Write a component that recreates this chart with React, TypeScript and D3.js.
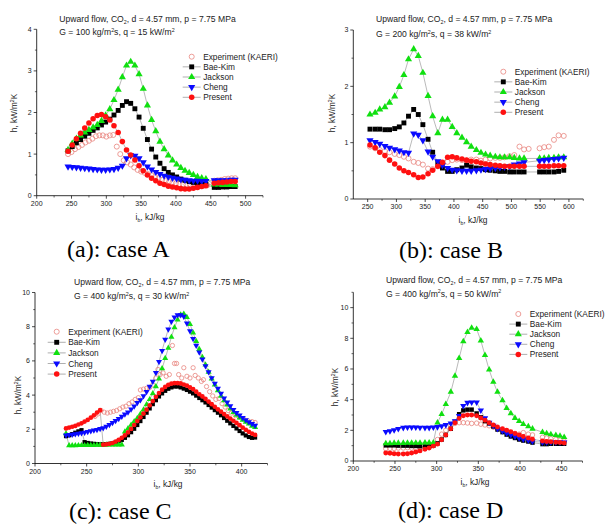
import React from 'react'
import * as d3 from 'd3'

const SERIES = ['Experiment (KAERI)', 'Bae-Kim', 'Jackson', 'Cheng', 'Present']

// case A : G = 100, q = 15
const aExpX = [245, 250, 255, 260, 265, 270, 275, 280, 285, 290, 295, 300, 305, 310, 315, 320, 325, 330, 335, 340, 345, 350, 355, 360, 365, 370, 375, 380, 385, 390, 395, 400, 405, 410, 415, 420, 425, 430, 435, 440, 445, 455, 460, 465, 470, 475, 480, 485]
const aExpY = [1.0, 1.05, 1.12, 1.17, 1.22, 1.28, 1.32, 1.37, 1.43, 1.45, 1.45, 1.42, 1.45, 1.46, 1.18, 1.0, 0.85, 0.8, 0.75, 0.68, 0.62, 0.58, 0.55, 0.52, 0.49, 0.45, 0.42, 0.38, 0.35, 0.33, 0.31, 0.3, 0.28, 0.27, 0.27, 0.26, 0.26, 0.25, 0.24, 0.24, 0.25, 0.36, 0.37, 0.38, 0.4, 0.41, 0.42, 0.42]
const aX = [245, 251, 257, 263, 269, 275, 281, 287, 293, 299, 305, 311, 317, 323, 329, 335, 341, 347, 353, 359, 365, 371, 377, 383, 389, 395, 401, 407, 413, 419, 425, 431, 437, 443, 455, 461, 467, 473, 479, 485]
const aBaeKim = [1.08, 1.18, 1.27, 1.35, 1.43, 1.5, 1.57, 1.63, 1.7, 1.77, 1.84, 1.94, 2.05, 2.17, 2.26, 2.22, 2.09, 1.89, 1.62, 1.35, 1.12, 0.93, 0.78, 0.65, 0.56, 0.5, 0.45, 0.4, 0.37, 0.34, 0.32, 0.3, 0.28, 0.27, 0.2, 0.2, 0.21, 0.21, 0.22, 0.22]
const aJackson = [1.1, 1.25, 1.37, 1.45, 1.52, 1.58, 1.64, 1.7, 1.8, 1.93, 2.08, 2.3, 2.55, 2.85, 3.13, 3.22, 3.13, 2.92, 2.57, 2.17, 1.82, 1.55, 1.3, 1.12, 0.97, 0.85, 0.75, 0.67, 0.6, 0.55, 0.5, 0.45, 0.42, 0.4, 0.27, 0.27, 0.26, 0.26, 0.26, 0.25]
const aCheng = [0.7, 0.69, 0.68, 0.67, 0.66, 0.65, 0.64, 0.63, 0.62, 0.62, 0.63, 0.64, 0.67, 0.72, 0.9, 0.97, 0.96, 0.9, 0.8, 0.7, 0.63, 0.57, 0.52, 0.48, 0.45, 0.43, 0.41, 0.39, 0.38, 0.37, 0.36, 0.36, 0.35, 0.35, 0.37, 0.37, 0.37, 0.37, 0.38, 0.38]
const aPresent = [1.07, 1.22, 1.37, 1.5, 1.63, 1.75, 1.85, 1.93, 1.95, 1.9, 1.82, 1.68, 1.52, 1.3, 1.1, 0.98, 0.86, 0.72, 0.6, 0.5, 0.42, 0.36, 0.3, 0.27, 0.23, 0.21, 0.19, 0.17, 0.16, 0.16, 0.18, 0.2, 0.22, 0.24, 0.3, 0.31, 0.32, 0.33, 0.34, 0.34]

// case B : G = 200, q = 38
const bExpX = [254, 263, 271, 280, 288, 297, 305, 313, 321, 330, 338, 346, 355, 363, 372, 380, 389, 397, 405, 414, 422, 430, 439, 447, 455, 463, 472, 480, 488, 497, 505, 514, 522, 530, 549, 557, 565, 574, 582, 591]
const bExpY = [0.93, 0.9, 0.87, 0.85, 0.83, 0.8, 0.78, 0.75, 0.72, 0.66, 0.64, 0.61, 0.54, 0.53, 0.58, 0.62, 0.66, 0.69, 0.7, 0.69, 0.68, 0.7, 0.7, 0.68, 0.7, 0.72, 0.73, 0.73, 0.74, 0.76, 0.78, 0.93, 0.88, 0.89, 0.9, 0.92, 0.93, 1.05, 1.13, 1.12]
const bX = [254, 263, 271, 280, 288, 297, 305, 313, 321, 330, 338, 346, 355, 363, 372, 380, 389, 397, 405, 414, 422, 430, 439, 447, 455, 463, 472, 480, 488, 497, 505, 514, 522, 549, 557, 565, 574, 582, 591]
const bBaeKim = [1.24, 1.24, 1.24, 1.23, 1.23, 1.25, 1.28, 1.35, 1.47, 1.59, 1.5, 1.32, 1.06, 0.83, 0.65, 0.55, 0.49, 0.49, 0.52, 0.55, 0.6, 0.57, 0.55, 0.54, 0.52, 0.51, 0.5, 0.49, 0.49, 0.48, 0.48, 0.48, 0.48, 0.48, 0.48, 0.48, 0.48, 0.49, 0.51]
const bJackson = [1.5, 1.53, 1.59, 1.63, 1.71, 1.82, 1.99, 2.2, 2.48, 2.66, 2.54, 2.24, 1.83, 1.47, 1.17, 1.41, 1.41, 1.28, 1.17, 1.09, 1.01, 0.93, 0.87, 0.82, 0.79, 0.77, 0.75, 0.74, 0.74, 0.74, 0.73, 0.72, 0.72, 0.72, 0.72, 0.73, 0.73, 0.74, 0.74]
const bCheng = [1.04, 1.01, 0.98, 0.94, 0.91, 0.88, 0.86, 0.83, 0.82, 1.16, 1.14, 1.04, 0.84, 0.75, 0.67, 0.6, 0.55, 0.52, 0.51, 0.5, 0.5, 0.5, 0.51, 0.52, 0.53, 0.54, 0.55, 0.56, 0.57, 0.58, 0.61, 0.63, 0.65, 0.68, 0.69, 0.7, 0.71, 0.72, 0.73]
const bPresent = [0.96, 0.91, 0.83, 0.77, 0.69, 0.62, 0.55, 0.5, 0.47, 0.43, 0.38, 0.39, 0.45, 0.51, 0.58, 0.65, 0.74, 0.75, 0.73, 0.71, 0.69, 0.67, 0.66, 0.64, 0.62, 0.61, 0.6, 0.59, 0.58, 0.58, 0.58, 0.58, 0.58, 0.58, 0.58, 0.58, 0.59, 0.59, 0.59]

// case C : G = 400, q = 30
const cExpX = [258, 261, 264, 267, 270, 273, 276, 279, 282, 285, 288, 291, 294, 297, 300, 302, 305, 308, 311, 314, 317, 319, 321, 324, 327, 330, 333, 335, 337, 339, 342, 344, 347, 350, 353, 355, 358, 361, 363, 366, 369, 372, 375, 378, 381, 384, 387, 390, 394, 398, 402, 406, 410, 413]
const cExpY = [2.75, 2.9, 3.1, 3.0, 2.95, 3.0, 3.05, 3.1, 3.2, 3.3, 3.35, 3.5, 3.6, 3.75, 3.85, 4.3, 4.35, 4.4, 4.45, 4.6, 5.0, 5.5, 5.2, 5.3, 5.1, 5.2, 6.9, 5.85, 5.85, 5.2, 5.0, 5.6, 5.1, 5.0, 5.6, 5.15, 5.0, 4.8, 4.9, 4.5, 4.2, 3.95, 3.75, 3.8, 3.5, 3.3, 3.1, 2.95, 2.8, 2.7, 2.6, 2.5, 2.45, 2.4]
const cX = [230, 233, 236, 239, 242, 245, 248, 251, 254, 257, 260, 263, 266, 269, 272, 275, 278, 281, 284, 287, 290, 293, 296, 299, 302, 305, 308, 311, 314, 317, 320, 323, 326, 329, 332, 335, 338, 341, 344, 347, 350, 353, 356, 359, 362, 365, 368, 371, 374, 377, 380, 383, 386, 389, 392, 395, 398, 401, 404, 407, 410, 413]
const cBaeKim = [1.6, 1.65, 1.72, 1.8, 1.88, 1.95, 1.25, 1.2, 1.17, 1.15, 1.13, 1.12, 1.12, 1.13, 1.15, 1.18, 1.23, 1.3, 1.38, 1.5, 1.65, 1.83, 2.03, 2.25, 2.48, 2.72, 2.97, 3.22, 3.47, 3.7, 3.92, 4.1, 4.25, 4.37, 4.45, 4.5, 4.5, 4.45, 4.38, 4.3, 4.2, 4.1, 3.97, 3.83, 3.7, 3.57, 3.42, 3.27, 3.12, 2.97, 2.82, 2.66, 2.5, 2.35, 2.2, 2.05, 1.9, 1.76, 1.64, 1.55, 1.5, 1.52]
const cJackson = [1.75, 1.05, 1.05, 1.05, 1.06, 1.06, 1.06, 1.07, 1.07, 1.07, 1.08, 1.08, 1.08, 1.09, 1.09, 1.1, 1.1, 1.1, 1.1, 1.85, 2.05, 2.25, 2.45, 2.65, 2.9, 3.15, 3.45, 3.75, 4.1, 4.5, 4.95, 5.55, 6.15, 6.75, 7.4, 7.95, 8.4, 8.7, 8.75, 8.55, 8.15, 7.65, 7.15, 6.68, 6.22, 5.78, 5.35, 4.95, 4.6, 4.27, 3.95, 3.68, 3.43, 3.2, 3.0, 2.83, 2.68, 2.55, 2.43, 2.32, 2.2, 2.12]
const cCheng = [1.65, 1.68, 1.7, 1.73, 1.76, 1.79, 1.82, 1.86, 1.9, 1.94, 1.98, 2.03, 2.08, 2.17, 2.27, 2.38, 2.5, 2.62, 2.75, 2.88, 3.0, 3.17, 3.35, 3.55, 3.72, 3.95, 4.2, 4.5, 4.8, 5.3, 5.95, 6.6, 7.25, 7.85, 8.3, 8.55, 8.68, 8.68, 8.6, 8.2, 7.75, 7.3, 6.9, 6.5, 6.1, 5.7, 5.35, 5.0, 4.68, 4.38, 4.1, 3.82, 3.58, 3.36, 3.15, 2.97, 2.82, 2.68, 2.55, 2.43, 2.33, 2.22]
const cPresent = [2.05, 2.1, 2.15, 2.2, 2.28, 2.35, 2.45, 2.55, 2.68, 2.82, 2.98, 3.12, 1.1, 1.12, 1.15, 1.2, 1.28, 1.38, 1.5, 1.65, 1.82, 2.02, 2.25, 2.48, 2.7, 2.92, 3.15, 3.4, 3.65, 3.9, 4.12, 4.32, 4.48, 4.6, 4.67, 4.7, 4.7, 4.68, 4.62, 4.55, 4.45, 4.35, 4.2, 4.05, 3.92, 3.78, 3.62, 3.47, 3.32, 3.17, 3.03, 2.89, 2.76, 2.63, 2.5, 2.37, 2.24, 2.1, 1.97, 1.85, 1.75, 1.67]

// case D : G = 400, q = 50
const dX = [239, 244, 249, 254, 260, 265, 270, 275, 280, 286, 291, 296, 301, 306, 311, 317, 322, 327, 332, 337, 342, 348, 353, 358, 363, 368, 373, 379, 384, 389, 394, 399, 404, 410, 415, 427, 432, 437, 443, 448, 453]
const dExpY = [0.8, 0.82, 0.82, 0.85, 0.85, 0.87, 0.85, 0.85, 0.85, 0.9, 0.95, 1.05, 1.4, 1.75, 2.0, 2.3, 2.45, 2.5, 2.5, 2.48, 2.45, 2.47, 2.4, 2.35, 2.3, 2.2, 2.1, 2.0, 1.95, 1.85, 1.8, 1.75, 1.85, 1.75, 1.7, 1.55, 1.5, 1.45, 1.4, 1.35, 1.3]
const dBaeKim = [1.02, 1.02, 1.02, 1.0, 1.0, 1.0, 0.98, 0.98, 0.96, 0.95, 0.95, 1.0, 1.15, 1.4, 1.7, 2.1, 2.55, 3.05, 3.3, 3.35, 3.35, 3.1, 2.85, 2.6, 2.45, 2.25, 2.05, 1.88, 1.72, 1.6, 1.5, 1.4, 1.33, 1.27, 1.2, 1.1, 1.1, 1.12, 1.12, 1.12, 1.12]
const dJackson = [1.15, 1.15, 1.17, 1.17, 1.17, 1.18, 1.18, 1.18, 1.18, 1.2, 1.2, 1.2, 2.5, 3.05, 3.7, 4.5, 5.55, 6.7, 7.8, 8.4, 8.68, 8.6, 7.85, 6.9, 5.95, 5.15, 4.5, 3.95, 3.45, 3.1, 2.8, 2.6, 2.4, 2.25, 2.1, 1.88, 1.8, 1.73, 1.68, 1.63, 1.55]
const dCheng = [1.9, 1.95, 2.02, 2.1, 2.17, 2.2, 2.2, 2.19, 2.18, 2.17, 2.17, 2.2, 2.22, 2.28, 2.35, 2.45, 2.6, 2.95, 3.6, 3.8, 3.83, 3.82, 3.3, 2.8, 2.5, 2.3, 2.1, 1.95, 1.8, 1.7, 1.6, 1.5, 1.42, 1.35, 1.28, 1.22, 1.22, 1.22, 1.22, 1.22, 1.22]
const dPresent = [0.52, 0.5, 0.48, 0.46, 0.46, 0.48, 0.52, 0.58, 0.66, 0.76, 0.85, 0.97, 1.1, 1.38, 1.7, 2.1, 2.5, 2.78, 2.95, 3.0, 3.0, 2.95, 2.8, 2.65, 2.5, 2.35, 2.22, 2.1, 2.0, 1.9, 1.8, 1.7, 1.6, 1.5, 1.42, 1.3, 1.27, 1.25, 1.22, 1.2, 1.18]

const SANS = '"Liberation Sans", Arial, sans-serif'
const SERIF = '"Liberation Serif", "Times New Roman", serif'
const EXP_COLOR = '#e8857f'
const LINE_COLOR = '#8c8c8c'
const TXT = '#222'

const style: Record<string, { fill: string; stroke: string; sym: d3.SymbolType; size: number; rot: number }> = {
  'Experiment (KAERI)': { fill: 'none', stroke: EXP_COLOR, sym: d3.symbolCircle, size: 20, rot: 0 },
  'Bae-Kim': { fill: '#000', stroke: 'none', sym: d3.symbolSquare, size: 24, rot: 0 },
  'Jackson': { fill: '#10e010', stroke: 'none', sym: d3.symbolTriangle, size: 22, rot: 0 },
  'Cheng': { fill: '#0a0aff', stroke: 'none', sym: d3.symbolTriangle, size: 22, rot: 180 },
  'Present': { fill: '#ff1010', stroke: 'none', sym: d3.symbolCircle, size: 24, rot: 0 },
}

function Marker({ name, x, y, k }: { name: string; x: number; y: number; k: number }) {
  const s = style[name]
  const d = d3.symbol(s.sym, s.size * k * k)() as string
  return (
    <path d={d} transform={`translate(${x},${y}) rotate(${s.rot})`}
      fill={s.fill} stroke={s.stroke} strokeWidth={0.8} />
  )
}

type PanelProps = {
  left: number; right: number; top: number; bottom: number
  xDom: [number, number]; yDom: [number, number]
  xTicks: number[]; xMinor: number[]; yTicks: number[]; yMinor: number[]
  exp: { x: number[]; y: number[] }
  models: { name: string; x: number[]; y: number[] }[]
  title: { x: number; y1: number; y2: number; G: string; q: string }
  legend: { x: number; y: number; dy: number }
  ylab: { x: number; y: number }
  xlab: { x: number; y: number }
  caption: { text: string; x: number; y: number }
  k: number
}

function Panel(p: PanelProps) {
  const x = d3.scaleLinear().domain(p.xDom).range([p.left, p.right])
  const y = d3.scaleLinear().domain(p.yDom).range([p.bottom, p.top])
  const path = (xs: number[], ys: number[]) =>
    d3.line<number>().x((d) => x(d)).y((_, i) => y(ys[i]))(xs) as string
  const small = '0.62em'
  return (
    <g>
      {/* title */}
      <text x={p.title.x} y={p.title.y1} fontFamily={SANS} fontSize={8.6} fill={TXT}>
        <tspan>Upward flow, CO</tspan>
        <tspan dy={2} fontSize={small}>2</tspan>
        <tspan dy={-2}>, d = 4.57 mm, p = 7.75 MPa</tspan>
      </text>
      <text x={p.title.x} y={p.title.y2} fontFamily={SANS} fontSize={8.6} fill={TXT}>
        <tspan>{`G = ${p.title.G} kg/m`}</tspan>
        <tspan dy={-3.5} fontSize={small}>2</tspan>
        <tspan dy={3.5}>{`s, q = ${p.title.q} kW/m`}</tspan>
        <tspan dy={-3.5} fontSize={small}>2</tspan>
      </text>

      {/* connecting lines */}
      {p.models.map((m) => (
        <path key={m.name + 'l'} d={path(m.x, m.y)} fill="none" stroke={LINE_COLOR} strokeWidth={0.6} />
      ))}
      {/* markers */}
      {p.exp.x.map((v, i) => (
        <Marker key={'e' + i} name={SERIES[0]} x={x(v)} y={y(p.exp.y[i])} k={p.k} />
      ))}
      {p.models.map((m) =>
        m.x.map((v, i) => <Marker key={m.name + i} name={m.name} x={x(v)} y={y(m.y[i])} k={p.k} />)
      )}

      {/* axes */}
      <line x1={p.left} x2={p.right} y1={p.bottom} y2={p.bottom} stroke="#000" strokeWidth={0.8} />
      <line x1={p.left} x2={p.left} y1={p.bottom} y2={p.top} stroke="#000" strokeWidth={0.8} />
      {p.xMinor.map((t) => (
        <line key={'xm' + t} x1={x(t)} x2={x(t)} y1={p.bottom} y2={p.bottom + 1.8} stroke="#000" strokeWidth={0.6} />
      ))}
      {p.xTicks.map((t) => (
        <g key={'xt' + t}>
          <line x1={x(t)} x2={x(t)} y1={p.bottom} y2={p.bottom + 3} stroke="#000" strokeWidth={0.7} />
          <text x={x(t)} y={p.bottom + 10} textAnchor="middle" fontFamily={SANS} fontSize={7} fill={TXT}>{t}</text>
        </g>
      ))}
      {p.yMinor.map((t) => (
        <line key={'ym' + t} x1={p.left} x2={p.left - 1.8} y1={y(t)} y2={y(t)} stroke="#000" strokeWidth={0.6} />
      ))}
      {p.yTicks.map((t) => (
        <g key={'yt' + t}>
          <line x1={p.left} x2={p.left - 3} y1={y(t)} y2={y(t)} stroke="#000" strokeWidth={0.7} />
          <text x={p.left - 5} y={y(t) + 2.4} textAnchor="end" fontFamily={SANS} fontSize={7} fill={TXT}>{t}</text>
        </g>
      ))}

      {/* axis labels */}
      <text transform={`translate(${p.ylab.x},${p.ylab.y}) rotate(-90)`} textAnchor="middle"
        fontFamily={SANS} fontSize={8.2} fill={TXT}>
        <tspan>h, kW/m</tspan>
        <tspan dy={-3.3} fontSize={small}>2</tspan>
        <tspan dy={3.3}>K</tspan>
      </text>
      <text x={p.xlab.x} y={p.xlab.y} textAnchor="middle" fontFamily={SANS} fontSize={8.4} fill={TXT}>
        <tspan>i</tspan>
        <tspan dy={2.2} fontSize={small}>b</tspan>
        <tspan dy={-2.2}>, kJ/kg</tspan>
      </text>

      {/* legend */}
      {SERIES.map((s, i) => {
        const ly = p.legend.y + i * p.legend.dy
        return (
          <g key={'lg' + s}>
            {i > 0 && <line x1={p.legend.x - 9} x2={p.legend.x + 9} y1={ly} y2={ly} stroke={LINE_COLOR} strokeWidth={0.7} />}
            <Marker name={s} x={p.legend.x} y={ly} k={1} />
            <text x={p.legend.x + 11.5} y={ly + 3} fontFamily={SANS} fontSize={8.3} fill={TXT}>{s}</text>
          </g>
        )
      })}

      <text x={p.caption.x} y={p.caption.y} fontFamily={SERIF} fontSize={24} fill="#000">{p.caption.text}</text>
    </g>
  )
}

export default function App() {
  const panels: PanelProps[] = [
    {
      left: 36.7, right: 263, top: 29.3, bottom: 195.7, xDom: [200, 525], yDom: [0, 4],
      xTicks: d3.range(200, 501, 50), xMinor: d3.range(225, 526, 50), yTicks: [0, 1, 2, 3, 4], yMinor: d3.range(0.5, 4, 1),
      exp: { x: aExpX, y: aExpY },
      models: [
        { name: 'Bae-Kim', x: aX, y: aBaeKim }, { name: 'Jackson', x: aX, y: aJackson },
        { name: 'Cheng', x: aX, y: aCheng }, { name: 'Present', x: aX, y: aPresent },
      ],
      title: { x: 59.3, y1: 22, y2: 35, G: '100', q: '15' },
      legend: { x: 191.7, y: 56.7, dy: 10.15 },
      ylab: { x: 17, y: 113 }, xlab: { x: 150, y: 220 },
      caption: { text: '(a): case A', x: 67, y: 257 }, k: 1,
    },
    {
      left: 353.3, right: 583.3, top: 30, bottom: 199, xDom: [225, 625], yDom: [0, 3],
      xTicks: d3.range(250, 601, 50), xMinor: d3.range(275, 626, 50), yTicks: [0, 1, 2, 3], yMinor: d3.range(0.5, 3, 1),
      exp: { x: bExpX, y: bExpY },
      models: [
        { name: 'Bae-Kim', x: bX, y: bBaeKim }, { name: 'Jackson', x: bX, y: bJackson },
        { name: 'Cheng', x: bX, y: bCheng }, { name: 'Present', x: bX, y: bPresent },
      ],
      title: { x: 376, y1: 22, y2: 37, G: '200', q: '38' },
      legend: { x: 503.3, y: 71.7, dy: 10.15 },
      ylab: { x: 335, y: 113 }, xlab: { x: 473, y: 223 },
      caption: { text: '(b): case B', x: 399, y: 258 }, k: 1,
    },
    {
      left: 35, right: 267.5, top: 292.5, bottom: 463.5, xDom: [200, 425], yDom: [0, 10],
      xTicks: d3.range(200, 401, 50), xMinor: d3.range(225, 426, 50), yTicks: [0, 2, 4, 6, 8, 10], yMinor: d3.range(1, 10, 2),
      exp: { x: cExpX, y: cExpY },
      models: [
        { name: 'Bae-Kim', x: cX, y: cBaeKim }, { name: 'Jackson', x: cX, y: cJackson },
        { name: 'Cheng', x: cX, y: cCheng }, { name: 'Present', x: cX, y: cPresent },
      ],
      title: { x: 74, y1: 285, y2: 299, G: '400', q: '30' },
      legend: { x: 56.7, y: 331.7, dy: 10.6 },
      ylab: { x: 21, y: 395 }, xlab: { x: 168, y: 487 },
      caption: { text: '(c): case C', x: 69, y: 519 }, k: 0.85,
    },
    {
      left: 353.3, right: 582.5, top: 292.3, bottom: 461, xDom: [200, 475], yDom: [0, 11],
      xTicks: d3.range(200, 451, 50), xMinor: d3.range(225, 476, 50), yTicks: [0, 2, 4, 6, 8, 10], yMinor: d3.range(1, 12, 2),
      exp: { x: dX, y: dExpY },
      models: [
        { name: 'Bae-Kim', x: dX, y: dBaeKim }, { name: 'Jackson', x: dX, y: dJackson },
        { name: 'Cheng', x: dX, y: dCheng }, { name: 'Present', x: dX, y: dPresent },
      ],
      title: { x: 386, y1: 283, y2: 296.5, G: '400', q: '50' },
      legend: { x: 518.3, y: 314, dy: 10.1 },
      ylab: { x: 338, y: 387 }, xlab: { x: 475, y: 485 },
      caption: { text: '(d): case D', x: 398, y: 518 }, k: 0.9,
    },
  ]
  return (
    <svg width={605} height={525} viewBox="0 0 605 525"
      style={{ position: 'absolute', left: 0, top: 0, background: '#fff' }}>
      <rect width={605} height={525} fill="#fff" />
      {panels.map((p, i) => <Panel key={i} {...p} />)}
    </svg>
  )
}
